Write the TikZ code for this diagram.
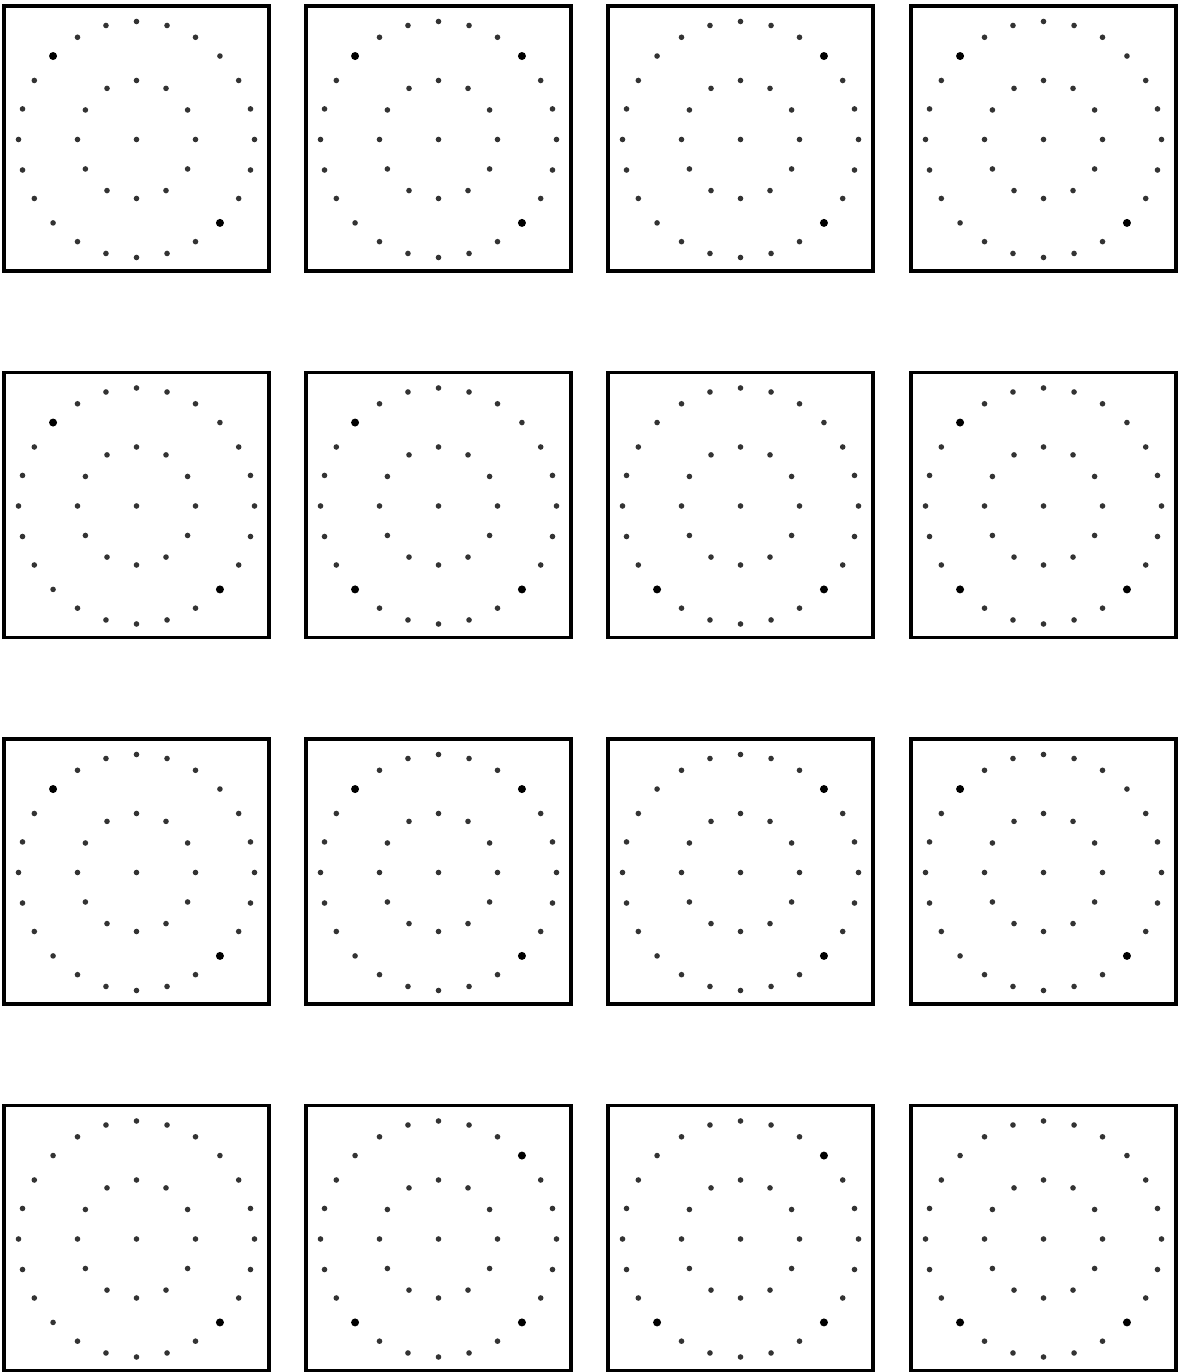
\documentclass[tikz,border=0pt]{standalone}
\usepackage{tikz}

\tikzset{
  panel/.style={draw, line width=0.9pt},
  spot/.style={fill=black!80},
  bigspot/.style={fill=black},
}

% one panel: centre x, centre y, angles of the marked outer dots
\newcommand{\ringpanel}[3]{%
  \draw[panel] (#1-1.325,#2-1.325) rectangle (#1+1.325,#2+1.325);
  \fill[spot] (#1,#2-0.01) circle (0.028);
  \foreach \a in {0,30,...,330}
    \fill[spot] (#1,#2-0.01) ++(\a:0.59) circle (0.028);
  \foreach \a in {0,15,...,345}
    \fill[spot] (#1,#2-0.01) ++(\a:1.18) circle (0.028);
  \foreach \a in {#3}
    \fill[bigspot] (#1,#2-0.01) ++(\a:1.18) circle (0.04);
}

\begin{document}
\begin{tikzpicture}

    \useasboundingbox (0,0) rectangle (11.77,13.72);

    % --- Row 1 ---
    \ringpanel{1.365}{12.335}{135,315}
    \ringpanel{4.385}{12.335}{45,135,315}
    \ringpanel{7.405}{12.335}{45,315}
    \ringpanel{10.435}{12.335}{135,315}

    % --- Row 2 ---
    \ringpanel{1.365}{8.67}{135,315}
    \ringpanel{4.385}{8.67}{135,225,315}
    \ringpanel{7.405}{8.67}{225,315}
    \ringpanel{10.435}{8.67}{135,225,315}

    % --- Row 3 ---
    \ringpanel{1.365}{5.005}{135,315}
    \ringpanel{4.385}{5.005}{45,135,315}
    \ringpanel{7.405}{5.005}{45,315}
    \ringpanel{10.435}{5.005}{135,315}

    % --- Row 4 ---
    \ringpanel{1.365}{1.34}{315}
    \ringpanel{4.385}{1.34}{45,225,315}
    \ringpanel{7.405}{1.34}{45,225,315}
    \ringpanel{10.435}{1.34}{225,315}
\end{tikzpicture}
\end{document}
